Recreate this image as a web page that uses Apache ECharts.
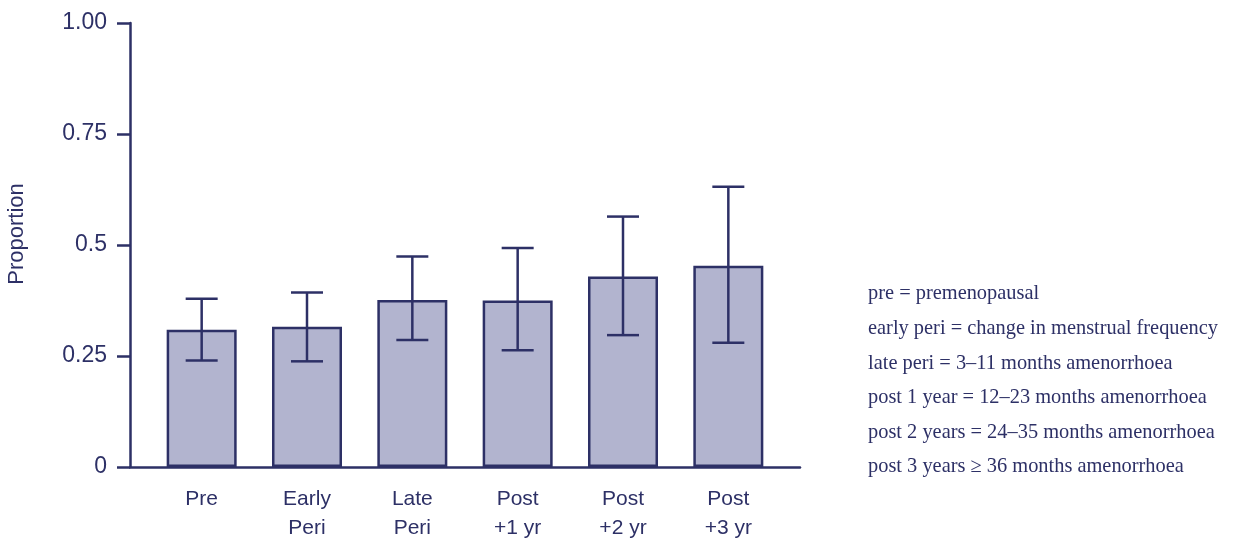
<!DOCTYPE html>
<html>
<head>
<meta charset="utf-8">
<script src="https://cdn.jsdelivr.net/npm/echarts@6/dist/echarts.min.js"></script>
<style>
  html, body { margin: 0; padding: 0; background: #fff; }
  #chart { width: 1235px; height: 542px; }
</style>
</head>
<body>
<div id="chart"></div>
<script>
// stages along the menopausal transition
const categories = ["Pre", "Early\nPeri", "Late\nPeri", "Post\n+1 yr", "Post\n+2 yr", "Post\n+3 yr"];
const proportion = [0.309, 0.316, 0.376, 0.375, 0.429, 0.453];
const lowerCI = [0.240, 0.238, 0.286, 0.263, 0.297, 0.280];
const upperCI = [0.379, 0.393, 0.474, 0.493, 0.564, 0.631];
const yTicks = [0, 0.25, 0.5, 0.75, 1];
const yTickLabels = ["0", "0.25", "0.5", "0.75", "1.00"];
const notes = [
  "pre = premenopausal",
  "early peri = change in menstrual frequency",
  "late peri = 3\u201311 months amenorrhoea",
  "post 1 year = 12\u201323 months amenorrhoea",
  "post 2 years = 24\u201335 months amenorrhoea",
  "post 3 years \u2265 36 months amenorrhoea"
];

const navy = "#2d3066";
const fill = "#b2b4cf";

const chart = echarts.init(document.getElementById("chart"), null, { renderer: "canvas" });

const errorData = categories.map((c, i) => [i, lowerCI[i], upperCI[i]]);

const option = {
  animation: false,
  backgroundColor: "#fff",
  grid: [
    // bars
    { left: 149, width: 632, top: 23, bottom: 75, containLabel: false, outerBoundsMode: "none" },
    // axis frame
    { left: 130, width: 670, top: 23, bottom: 75, containLabel: false, outerBoundsMode: "none" }
  ],
  xAxis: [
    {
      type: "category",
      gridIndex: 0,
      data: categories,
      axisLine: { show: false },
      axisTick: { show: false },
      axisLabel: {
        color: navy,
        fontFamily: "Liberation Sans, Arial, sans-serif",
        fontSize: 21,
        lineHeight: 29,
        margin: 18
      }
    },
    {
      type: "value",
      gridIndex: 1,
      min: 0,
      max: 1,
      axisLine: { show: true, lineStyle: { color: navy, width: 2.5 } },
      axisTick: { show: false },
      axisLabel: { show: false },
      splitLine: { show: false }
    }
  ],
  yAxis: [
    {
      type: "value",
      gridIndex: 0,
      min: 0,
      max: 1,
      show: false
    },
    {
      type: "value",
      gridIndex: 1,
      min: 0,
      max: 1,
      interval: 0.25,
      name: "Proportion",
      nameLocation: "middle",
      nameGap: 102,
      nameTextStyle: {
        color: navy,
        fontFamily: "Liberation Sans, Arial, sans-serif",
        fontSize: 22,
        padding: [0, 0, 0, 22]
      },
      axisLine: { show: true, lineStyle: { color: navy, width: 2.5 } },
      axisTick: { show: true, inside: false, length: 13, lineStyle: { color: navy, width: 2.5 } },
      axisLabel: {
        color: navy,
        fontFamily: "Liberation Sans, Arial, sans-serif",
        fontSize: 23,
        margin: 23,
        formatter: (v) => {
          const k = yTicks.findIndex((t) => Math.abs(t - v) < 1e-6);
          return k >= 0 ? yTickLabels[k] : "";
        }
      },
      splitLine: { show: false }
    }
  ],
  series: [
    {
      type: "bar",
      xAxisIndex: 0,
      yAxisIndex: 0,
      data: proportion,
      barWidth: 70,
      itemStyle: { color: fill, borderColor: navy, borderWidth: 2.5 },
      z: 2
    },
    {
      type: "custom",
      xAxisIndex: 0,
      yAxisIndex: 0,
      data: errorData,
      z: 3,
      renderItem: (params, api) => {
        const x = api.value(0);
        const lo = api.coord([x, api.value(1)]);
        const hi = api.coord([x, api.value(2)]);
        const half = 16;
        const style = { stroke: navy, lineWidth: 2.5, fill: null };
        return {
          type: "group",
          children: [
            { type: "line", shape: { x1: hi[0], y1: hi[1], x2: lo[0], y2: lo[1] }, style },
            { type: "line", shape: { x1: hi[0] - half, y1: hi[1], x2: hi[0] + half, y2: hi[1] }, style },
            { type: "line", shape: { x1: lo[0] - half, y1: lo[1], x2: lo[0] + half, y2: lo[1] }, style }
          ]
        };
      }
    }
  ],
  graphic: notes.map((t, i) => ({
    type: "text",
    left: 868,
    top: 284 + i * 34.6,
    style: {
      text: t,
      fill: navy,
      font: '20.4px "Liberation Serif", "Times New Roman", serif'
    }
  }))
};

chart.setOption(option);
</script>
</body>
</html>
